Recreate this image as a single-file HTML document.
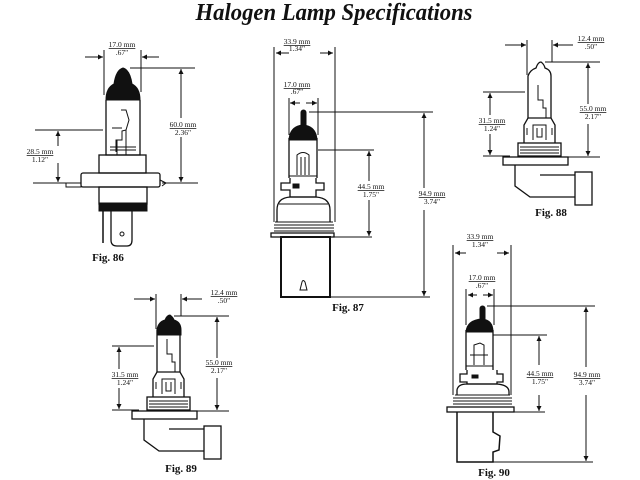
<!DOCTYPE html>
<html><head><meta charset="utf-8"><style>
html,body{margin:0;padding:0;background:#fff;width:640px;height:480px;overflow:hidden}
svg text{font-family:"Liberation Serif",serif;fill:#111}
.d{font-size:7.5px;text-anchor:middle}
.f{font-size:11px;font-weight:bold;text-anchor:middle}
</style></head><body>
<svg width="640" height="480" viewBox="0 0 640 480" xmlns="http://www.w3.org/2000/svg">
<defs>
<marker id="a" viewBox="0 0 10 10" refX="10" refY="5" markerWidth="5" markerHeight="6" orient="auto-start-reverse"><path d="M0,0 L10,5 L0,10 Z" fill="#111"/></marker>
</defs>
<text x="334" y="20" font-size="24" font-weight="bold" font-style="italic" text-anchor="middle" textLength="277" lengthAdjust="spacingAndGlyphs">Halogen Lamp Specifications</text>

<g stroke="#111" fill="none" stroke-width="1">
<!-- ===== Fig 86 ===== -->
<line x1="104" y1="50" x2="104" y2="95"/><line x1="141" y1="50" x2="141" y2="92"/>
<line x1="85" y1="57" x2="103" y2="57" marker-end="url(#a)"/><line x1="159" y1="57" x2="142" y2="57" marker-end="url(#a)"/>
<line x1="130" y1="68" x2="195" y2="68"/><line x1="162" y1="183" x2="198" y2="183"/>
<line x1="181" y1="118" x2="181" y2="69" marker-end="url(#a)"/><line x1="181" y1="137" x2="181" y2="182" marker-end="url(#a)"/>
<line x1="35" y1="130" x2="103" y2="130"/><line x1="33" y1="183" x2="66" y2="183"/>
<line x1="58" y1="146" x2="58" y2="131" marker-end="url(#a)"/><line x1="58" y1="163" x2="58" y2="182" marker-end="url(#a)"/>
<path d="M106,100 L106,155 L140,155 L140,100" stroke-width="1.3"/>
<path d="M106,100 Q106,88 114,84 Q116,70 123,68 Q130,70 132,84 Q140,88 140,100 Z" fill="#111"/>
<path d="M121,110 L126,110 L129,120 L126,130 L122,131 L122,140 L116,140 L116,152 M112,128 L122,128 M110,147 L136,147 M110,150 L136,150 M117,140 L117,155 M126,130 L126,155" stroke-width="1"/>
<rect x="99" y="155" width="47" height="18" stroke-width="1.3"/>
<rect x="81" y="173" width="79" height="14" rx="2" stroke-width="1.3"/>
<rect x="66" y="183" width="15" height="4"/><path d="M160,180 L166,183 L162,186"/>
<rect x="99" y="187" width="48" height="17" stroke-width="1.3"/>
<rect x="99" y="203" width="48" height="8" fill="#111"/>
<line x1="103" y1="211" x2="103" y2="243" stroke-width="1.5"/>
<path d="M111,211 L111,240 Q111,246 117,246 L127,246 Q132,246 132,240 L132,211" stroke-width="1.3"/>
<circle cx="122" cy="234" r="2"/>

<!-- ===== Fig 87 ===== -->
<line x1="274" y1="47" x2="274" y2="222"/><line x1="335" y1="47" x2="335" y2="222"/>
<line x1="289" y1="53" x2="276" y2="53" marker-end="url(#a)"/><line x1="320" y1="53" x2="333" y2="53" marker-end="url(#a)"/>
<line x1="289" y1="98" x2="289" y2="135"/><line x1="318" y1="98" x2="318" y2="135"/>
<line x1="300" y1="103" x2="290" y2="103" marker-end="url(#a)"/><line x1="306" y1="103" x2="317" y2="103" marker-end="url(#a)"/>
<line x1="309" y1="112" x2="433" y2="112"/><line x1="330" y1="297" x2="430" y2="297"/>
<line x1="424" y1="188" x2="424" y2="113" marker-end="url(#a)"/><line x1="424" y1="210" x2="424" y2="296" marker-end="url(#a)"/>
<line x1="318" y1="150" x2="374" y2="150"/><line x1="333" y1="237" x2="372" y2="237"/>
<line x1="369" y1="181" x2="369" y2="151" marker-end="url(#a)"/><line x1="369" y1="200" x2="369" y2="236" marker-end="url(#a)"/>
<rect x="301" y="110" width="5" height="18" rx="2.5" fill="#111"/>
<path d="M289,140 Q290,126 303,125 Q316,126 317,140 Z" fill="#111"/>
<path d="M289,138 L289,178 M317,138 L317,178" stroke-width="1.3"/>
<path d="M297,175 L297,155 Q303,150 309,155 L309,175 M301,157 L301,175 M305,157 L305,175 M289,176 L317,176"/>
<path d="M290,178 L290,183 L281,183 L281,190 L290,190 L290,197 L316,197 L316,190 L324,190 L324,183 L316,183 L316,178" stroke-width="1.3"/>
<rect x="293" y="184" width="6" height="4" fill="#111"/>
<path d="M277,222 L277,210 Q277,198 290,197 L316,197 Q330,198 330,210 L330,222" stroke-width="1.3"/>
<line x1="279" y1="204" x2="328" y2="204"/>
<path d="M275,222 L333,222 M274,225 L334,225 M274,228 L334,228 M274,231 L334,231"/>
<rect x="271" y="233" width="63" height="4" stroke-width="1.3"/>
<rect x="281" y="237" width="49" height="60" stroke-width="2"/>
<path d="M300,290 L302,282 Q303,279 305,282 L307,290 Z"/>

<!-- ===== Fig 88 ===== -->
<g id="f88">
<line x1="527" y1="40" x2="527" y2="75"/><line x1="552" y1="40" x2="552" y2="62"/>
<line x1="505" y1="45" x2="526" y2="45" marker-end="url(#a)"/><line x1="573" y1="45" x2="553" y2="45" marker-end="url(#a)"/>
<line x1="545" y1="62" x2="600" y2="62"/><line x1="565" y1="157" x2="600" y2="157"/>
<line x1="588" y1="104" x2="588" y2="63" marker-end="url(#a)"/><line x1="588" y1="124" x2="588" y2="156" marker-end="url(#a)"/>
<line x1="483" y1="92" x2="525" y2="92"/><line x1="483" y1="156" x2="510" y2="156"/>
<line x1="490" y1="115" x2="490" y2="93" marker-end="url(#a)"/><line x1="490" y1="134" x2="490" y2="155" marker-end="url(#a)"/>
<path d="M528,118 L528,76 Q530,70 536,68 Q538,62 541,62 Q544,64 545,68 Q551,70 551,76 L551,118" stroke-width="1.3"/>
<path d="M538,85 L538,100 L543,100 L543,108 L546,108 L546,118"/>
<path d="M524,143 L524,125 L528,118 L551,118 L555,125 L555,143" stroke-width="1.3"/>
<path d="M533,140 L533,125 L546,125 L546,140 M537,128 L537,137 L542,137 L542,128 M527,128 L527,135 M552,128 L552,135"/>
<rect x="518" y="143" width="43" height="13" stroke-width="1.3"/>
<path d="M520,147 L559,147 M520,150 L559,150 M520,153 L559,153"/>
<rect x="503" y="157" width="65" height="8" stroke-width="1.3"/>
<path d="M515,165 L515,186 L530,197 L575,197 M540,175 L575,175" stroke-width="1.3"/>
<rect x="575" y="172" width="17" height="33" stroke-width="1.3"/>
</g>
<!-- ===== Fig 89 ===== -->
<use href="#f88" transform="translate(-371,254)"/>
<path d="M157,330 Q158,322 165,320 Q167,315 170,315 Q173,317 174,320 Q181,322 181,330 L181,335 L157,335 Z" fill="#111"/>

<!-- ===== Fig 90 ===== -->
<line x1="453" y1="245" x2="453" y2="395"/><line x1="511" y1="245" x2="511" y2="395"/>
<line x1="466" y1="253" x2="455" y2="253" marker-end="url(#a)"/><line x1="497" y1="253" x2="509" y2="253" marker-end="url(#a)"/>
<line x1="466" y1="289" x2="466" y2="325"/><line x1="494" y1="289" x2="494" y2="325"/>
<line x1="477" y1="295" x2="468" y2="295" marker-end="url(#a)"/><line x1="483" y1="295" x2="493" y2="295" marker-end="url(#a)"/>
<line x1="487" y1="306" x2="595" y2="306"/><line x1="490" y1="462" x2="593" y2="462"/>
<line x1="586" y1="367" x2="586" y2="307" marker-end="url(#a)"/><line x1="586" y1="395" x2="586" y2="461" marker-end="url(#a)"/>
<line x1="493" y1="335" x2="547" y2="335"/><line x1="512" y1="412" x2="545" y2="412"/>
<line x1="539" y1="365" x2="539" y2="336" marker-end="url(#a)"/><line x1="539" y1="395" x2="539" y2="411" marker-end="url(#a)"/>
<rect x="480" y="306" width="5" height="16" rx="2.5" fill="#111"/>
<path d="M466,332 Q467,320 482,319 Q493,320 493,332 Z" fill="#111"/>
<path d="M466,330 L466,370 M493,330 L493,370" stroke-width="1.3"/>
<path d="M474,365 L474,345 L480,343 L484,345 L484,365 M470,355 L488,355 M466,366 L493,366"/>
<path d="M467,370 L467,374 L460,374 L460,382 L467,382 L467,384 L497,384 L497,382 L503,382 L503,374 L497,374 L497,370" stroke-width="1.3"/>
<rect x="472" y="375" width="6" height="3" fill="#111"/>
<path d="M457,395 L457,390 Q458,384 467,384 L497,384 Q509,385 509,392 L509,395" stroke-width="1.3"/>
<path d="M455,395 L510,395 M453,398 L512,398 M453,401 L512,401 M453,404 L512,404"/>
<rect x="447" y="407" width="67" height="5" stroke-width="1.3"/>
<path d="M457,412 L457,462 L493,462 L493,452 L499,450 L500,436 L493,432 L493,412" stroke-width="1.5"/>
</g>

<text class="d" x="122" y="47" text-decoration="underline">17.0 mm</text><text class="d" x="122" y="55">.67"</text>
<text class="d" x="183" y="127" text-decoration="underline">60.0 mm</text><text class="d" x="183" y="135">2.36"</text>
<text class="d" x="40" y="154" text-decoration="underline">28.5 mm</text><text class="d" x="40" y="162">1.12"</text>
<text class="f" x="108" y="261">Fig. 86</text>

<text class="d" x="297" y="44" text-decoration="underline">33.9 mm</text><text class="d" x="297" y="51">1.34"</text>
<text class="d" x="297" y="87" text-decoration="underline">17.0 mm</text><text class="d" x="297" y="94">.67"</text>
<text class="d" x="432" y="196" text-decoration="underline">94.9 mm</text><text class="d" x="432" y="204">3.74"</text>
<text class="d" x="371" y="189" text-decoration="underline">44.5 mm</text><text class="d" x="371" y="197">1.75"</text>
<text class="f" x="348" y="311">Fig. 87</text>

<text class="d" x="591" y="41" text-decoration="underline">12.4 mm</text><text class="d" x="591" y="49">.50"</text>
<text class="d" x="593" y="111" text-decoration="underline">55.0 mm</text><text class="d" x="593" y="119">2.17"</text>
<text class="d" x="492" y="123" text-decoration="underline">31.5 mm</text><text class="d" x="492" y="131">1.24"</text>
<text class="f" x="551" y="216">Fig. 88</text>

<text class="d" x="224" y="295" text-decoration="underline">12.4 mm</text><text class="d" x="224" y="303">.50"</text>
<text class="d" x="219" y="365" text-decoration="underline">55.0 mm</text><text class="d" x="219" y="373">2.17"</text>
<text class="d" x="125" y="377" text-decoration="underline">31.5 mm</text><text class="d" x="125" y="385">1.24"</text>
<text class="f" x="181" y="472">Fig. 89</text>

<text class="d" x="480" y="239" text-decoration="underline">33.9 mm</text><text class="d" x="480" y="247">1.34"</text>
<text class="d" x="482" y="280" text-decoration="underline">17.0 mm</text><text class="d" x="482" y="288">.67"</text>
<text class="d" x="587" y="377" text-decoration="underline">94.9 mm</text><text class="d" x="587" y="385">3.74"</text>
<text class="d" x="540" y="376" text-decoration="underline">44.5 mm</text><text class="d" x="540" y="384">1.75"</text>
<text class="f" x="494" y="476">Fig. 90</text>
</svg>
</body></html>
